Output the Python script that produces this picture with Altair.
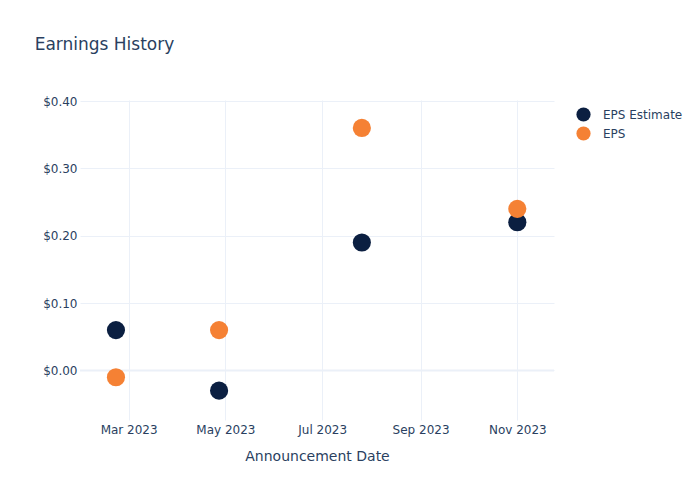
import altair as alt
import pandas as pd

dates = ["2023-02-21", "2023-04-27", "2023-07-26", "2023-11-01"]
eps_estimate = [0.06, -0.03, 0.19, 0.22]
eps_actual = [-0.01, 0.06, 0.36, 0.24]
series_names = ["EPS Estimate", "EPS"]
series_colors = ["#0b1f41", "#f58134"]
y_ticks = [0.0, 0.1, 0.2, 0.3, 0.4]

rows = []
for d, v in zip(dates, eps_estimate):
    rows.append({"date": d, "value": v, "series": series_names[0]})
for d, v in zip(dates, eps_actual):
    rows.append({"date": d, "value": v, "series": series_names[1]})
df = pd.DataFrame(rows)

TEXT = "#2a3f5f"
GRID = "#ebf0f8"
FONT = "DejaVu Sans"

x_ticks = [alt.DateTime(year=2023, month=m, date=1, utc=True) for m in [3, 5, 7, 9, 11]]

x_enc = alt.X(
    "date:T",
    title="Announcement Date",
    scale=alt.Scale(
        type="utc",
        domain=[alt.DateTime(year=2023, month=1, date=29, hours=8, utc=True),
                alt.DateTime(year=2023, month=11, date=24, hours=3, utc=True)],
        nice=False,
    ),
    axis=alt.Axis(
        values=x_ticks, format="%b %Y", ticks=False, domain=False,
        grid=True, gridColor=GRID, gridWidth=1,
        labelColor=TEXT, labelFontSize=12, labelFont=FONT, labelPadding=4,
        titleColor=TEXT, titleFontSize=14, titleFont=FONT, titleFontWeight="normal",
        titlePadding=14, labelFlush=False,
    ),
)

y_enc = alt.Y(
    "value:Q",
    title=None,
    scale=alt.Scale(domain=[-0.0735, 0.4015], nice=False, zero=False),
    axis=alt.Axis(
        values=y_ticks, format="$.2f", ticks=False, domain=False,
        grid=True, gridColor=GRID, gridWidth=1,
        labelColor=TEXT, labelFontSize=12, labelFont=FONT, labelPadding=3,
    ),
)

points = alt.Chart(df).mark_circle(size=330, opacity=1).encode(
    x=x_enc,
    y=y_enc,
    color=alt.Color(
        "series:N",
        scale=alt.Scale(domain=series_names, range=series_colors),
        legend=alt.Legend(
            title=None, orient="none", legendX=496, legendY=7,
            symbolType="circle", symbolSize=201, symbolStrokeWidth=0,
            labelColor=TEXT, labelFontSize=12, labelFont=FONT,
            labelOffset=12, rowPadding=4, padding=0,
        ),
    ),
)

zero_rule = alt.Chart(pd.DataFrame({"z": [0.0]})).mark_rule(color=GRID, strokeWidth=2).encode(
    y=alt.Y("z:Q", scale=alt.Scale(domain=[-0.0735, 0.4015], nice=False, zero=False))
)

chart = alt.layer(zero_rule, points).properties(
    width=474,
    height=320,
    title=alt.TitleParams(
        "Earnings History", anchor="start", dx=-8, offset=41,
        fontSize=17, font=FONT, color=TEXT, fontWeight="normal",
    ),
    autosize=alt.AutoSizeParams(type="none"),
    padding={"left": 80, "top": 100, "right": 146, "bottom": 80},
    background="white",
).configure_view(stroke=None)

chart.save("out.html", embed_options={"renderer": "svg", "actions": False})
